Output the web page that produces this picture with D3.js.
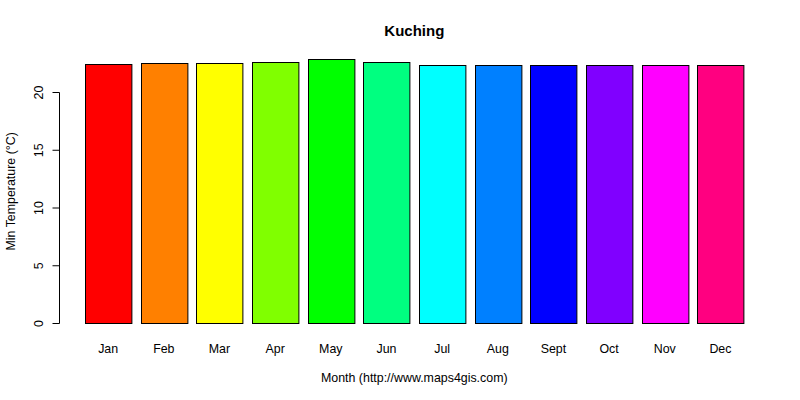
<!DOCTYPE html>
<html>
<head>
<meta charset="utf-8">
<script src="https://cdn.jsdelivr.net/npm/d3@7"></script>
<style>
body { margin: 0; background: #fff; }
text { font-family: "Liberation Sans", Arial, sans-serif; fill: #000; }
</style>
</head>
<body>
<script>
var w = 800;
var h = 400;

// Data
var months = ["Jan", "Feb", "Mar", "Apr", "May", "Jun", "Jul", "Aug", "Sept", "Oct", "Nov", "Dec"];
var minTemp = [22.4, 22.5, 22.5, 22.6, 22.8, 22.6, 22.3, 22.3, 22.3, 22.3, 22.3, 22.3];
var barColors = ["#FF0000", "#FF8000", "#FFFF00", "#80FF00", "#00FF00", "#00FF80",
                 "#00FFFF", "#0080FF", "#0000FF", "#8000FF", "#FF00FF", "#FF0080"];
var yTicks = [0, 5, 10, 15, 20];

// plot region (like R's par("plt")); "top" is taken by window.top
var plotLeft = 58.6, plotRight = 770, plotTop = 48.8, plotBottom = 333.9;
var labelSize = "12.4px";

var svg = d3.select("body")
            .append("svg")
            .attr("width", w)
            .attr("height", h);

// R barplot: width 1, space 0.2, 4% axis extension
var x = d3.scaleBand()
	.domain(months)
	.range([plotLeft, plotRight])
	.paddingInner(0.2 / 1.2)
	.paddingOuter(0.568 / 1.2);

var ymax = d3.max(minTemp);
var y = d3.scaleLinear()
	.domain([-ymax * 0.04, ymax * 1.04])
	.range([plotBottom, plotTop]);

// bars
svg.selectAll("rect.bar")
	.data(minTemp)
	.enter()
	.append("rect")
	.attr("class", "bar")
	.attr("x", function(d, i) { return Math.round(x(months[i])) + 0.5; })
	.attr("y", function(d) { return Math.round(y(d)) + 0.5; })
	.attr("width", x.bandwidth())
	.attr("height", function(d) { return Math.round(y(0)) - Math.round(y(d)); })
	.attr("fill", function(d, i) { return barColors[i]; })
	.attr("stroke", "#000")
	.attr("stroke-width", 1);

// y axis only across tick range, as in R
var yAxisScale = y.copy().domain([0, 20]).range([Math.round(y(0)) + 0.5, Math.round(y(20)) + 0.5]);
var yAxis = svg.append("g")
	.attr("transform", "translate(59.5,0)")
	.call(d3.axisLeft(yAxisScale).tickValues(yTicks).tickSize(7).tickSizeOuter(0).offset(0));
yAxis.selectAll("path, line").attr("stroke", "#000");
yAxis.selectAll(".tick text")
	.attr("x", null)
	.attr("dy", null)
	.attr("fill", "#000")
	.attr("transform", "translate(-17,0) rotate(-90)")
	.attr("text-anchor", "middle")
	.style("font-family", "Liberation Sans, Arial, sans-serif")
	.style("font-size", labelSize);

// month labels
svg.selectAll("text.month")
	.data(months)
	.enter()
	.append("text")
	.attr("class", "month")
	.attr("x", function(d) { return x(d) + x.bandwidth() / 2; })
	.attr("y", 353)
	.attr("text-anchor", "middle")
	.style("font-size", labelSize)
	.text(function(d) { return d; });

// titles
svg.append("text")
	.attr("x", (plotLeft + plotRight) / 2)
	.attr("y", 36)
	.attr("text-anchor", "middle")
	.style("font-size", "15px")
	.style("font-weight", "bold")
	.text("Kuching");

svg.append("text")
	.attr("x", (plotLeft + plotRight) / 2)
	.attr("y", 382)
	.attr("text-anchor", "middle")
	.style("font-size", labelSize)
	.text("Month (http://www.maps4gis.com)");

svg.append("text")
	.attr("transform", "translate(15," + ((plotTop + plotBottom) / 2) + ") rotate(-90)")
	.attr("text-anchor", "middle")
	.style("font-size", labelSize)
	.text("Min Temperature (°C)");
</script>
</body>
</html>
